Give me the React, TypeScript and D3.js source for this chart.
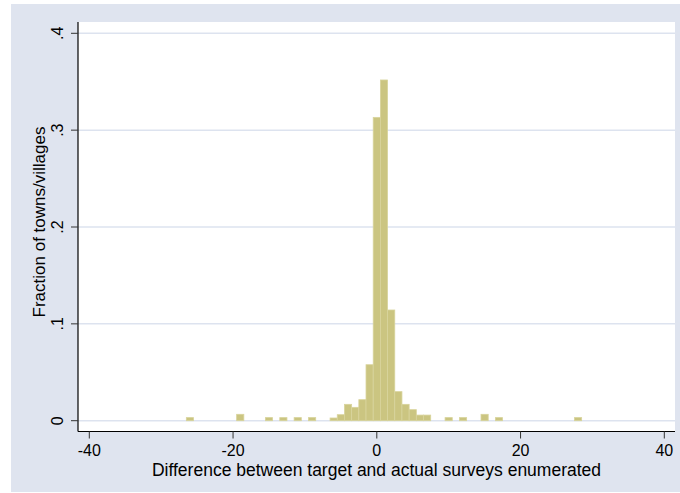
import React from "react";
import * as d3 from "d3";

// Histogram of target-minus-actual survey counts (fraction of towns/villages per unit bin)
const diffValues = [-26, -19, -15, -13, -11, -9, -6, -5, -4, -3, -2, -1, 0, 1, 2, 3, 4, 5, 6, 7, 10, 12, 15, 17, 28];
const fractions = [
  0.0032, 0.0066, 0.0032, 0.0032, 0.0032, 0.0032, 0.0028, 0.0062, 0.0169, 0.0138, 0.0217, 0.0578,
  0.3132, 0.3518, 0.1143, 0.030, 0.0169, 0.0114, 0.0058, 0.0058, 0.0032, 0.0032, 0.0066, 0.0032, 0.0032,
];
const xTicks = [-40, -20, 0, 20, 40];
const yTicks = [0, 0.1, 0.2, 0.3, 0.4];
const yTickLabels = ["0", ".1", ".2", ".3", ".4"];

const W = 680;
const H = 493;
const plot = { left: 78, right: 675, top: 22, bottom: 431.5 };
const FONT = "'Liberation Sans', Arial, Helvetica, sans-serif";

export default function App() {
  const x = d3.scaleLinear().domain([-40, 40]).range([89.3, 664.3]);
  const y = d3.scaleLinear().domain([0, 0.4]).range([420.7, 33.3]);
  const binWidth = 1;

  const bars = diffValues.map((v, i) => ({ v, f: fractions[i] }));

  return (
    <svg
      width={W}
      height={H}
      style={{ position: "absolute", left: 0, top: 0, background: "#ffffff" }}
    >
      {/* graph region */}
      <rect x={11} y={4} width={W - 11} height={488} fill="#dfe4ef" />
      {/* plot region */}
      <rect
        x={plot.left}
        y={plot.top}
        width={plot.right - plot.left}
        height={plot.bottom - plot.top}
        fill="#ffffff"
      />
      {/* grid lines */}
      {yTicks.map((t) => (
        <line
          key={"g" + t}
          x1={plot.left}
          x2={plot.right}
          y1={y(t)}
          y2={y(t)}
          stroke="#dde3ef"
          strokeWidth={1.5}
        />
      ))}
      {/* bars */}
      {bars.map((b) => {
        const x0 = x(b.v - binWidth / 2);
        const x1 = x(b.v + binWidth / 2);
        return (
          <rect
            key={"b" + b.v}
            x={x0}
            y={y(b.f)}
            width={x1 - x0}
            height={y(0) - y(b.f)}
            fill="#cbc581"
            stroke="#d8d49c"
            strokeWidth={0.8}
          />
        );
      })}
      {/* axes */}
      <line x1={plot.left} x2={plot.left} y1={plot.top} y2={plot.bottom} stroke="#000" strokeWidth={1.2} />
      <line x1={plot.left} x2={plot.right} y1={plot.bottom} y2={plot.bottom} stroke="#000" strokeWidth={1.2} />
      {/* y ticks and labels */}
      {yTicks.map((t, i) => (
        <g key={"yt" + t}>
          <line x1={plot.left - 7} x2={plot.left} y1={y(t)} y2={y(t)} stroke="#333" strokeWidth={1} />
          <text
            transform={`translate(${63},${y(t)}) rotate(-90)`}
            textAnchor="middle"
            fontFamily={FONT}
            fontSize={16}
            fill="#000"
          >
            {yTickLabels[i]}
          </text>
        </g>
      ))}
      {/* x ticks and labels */}
      {xTicks.map((t) => (
        <g key={"xt" + t}>
          <line x1={x(t)} x2={x(t)} y1={plot.bottom} y2={plot.bottom + 7} stroke="#333" strokeWidth={1} />
          <text
            x={x(t)}
            y={456}
            textAnchor="middle"
            fontFamily={FONT}
            fontSize={16}
            fill="#000"
          >
            {t}
          </text>
        </g>
      ))}
      {/* axis titles */}
      <text
        x={(plot.left + plot.right) / 2}
        y={475.5}
        textAnchor="middle"
        fontFamily={FONT}
        fontSize={17.5}
        fill="#000"
      >
        Difference between target and actual surveys enumerated
      </text>
      <text
        transform={`translate(${45},${222}) rotate(-90)`}
        textAnchor="middle"
        fontFamily={FONT}
        fontSize={17}
        fill="#000"
      >
        Fraction of towns/villages
      </text>
    </svg>
  );
}
